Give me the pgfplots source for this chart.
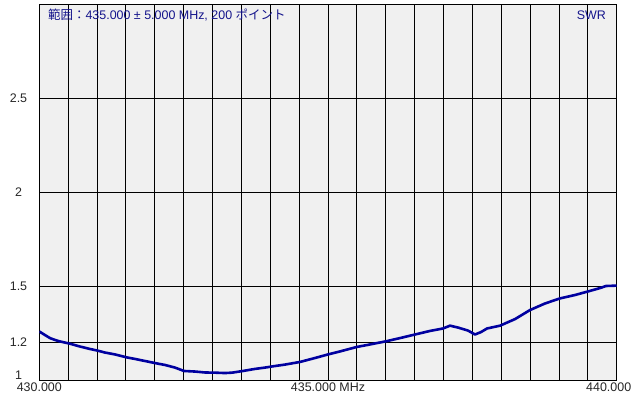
\documentclass[border=0pt]{standalone}
\usepackage{pgfplots}
\pgfplotsset{compat=1.18}
\usepackage{fontspec}
\setmainfont{Liberation Sans}
\newfontfamily\jp{Noto Sans CJK JP}
\definecolor{bg}{RGB}{240,240,240}
\definecolor{curve}{RGB}{0,0,160}
\definecolor{navy}{RGB}{20,20,140}
\pgfplotstableread{
x y
430.000 1.258
430.099 1.239
430.185 1.223
430.272 1.213
430.358 1.205
430.520 1.194
430.705 1.178
430.878 1.165
431.000 1.157
431.138 1.146
431.311 1.136
431.519 1.120
431.657 1.112
431.831 1.101
432.038 1.088
432.177 1.080
432.350 1.066
432.506 1.048
432.697 1.045
432.870 1.040
433.043 1.039
433.216 1.037
433.337 1.039
433.528 1.048
433.736 1.059
433.909 1.066
434.030 1.072
434.255 1.082
434.515 1.096
434.775 1.117
435.000 1.136
435.208 1.152
435.502 1.176
435.727 1.189
436.022 1.207
436.247 1.223
436.507 1.242
436.767 1.261
436.992 1.274
437.113 1.289
437.251 1.279
437.424 1.263
437.546 1.242
437.650 1.255
437.754 1.274
437.979 1.289
438.239 1.324
438.498 1.372
438.758 1.407
439.018 1.434
439.277 1.452
439.503 1.471
439.711 1.489
439.815 1.500
440.000 1.502
}\swr
\begin{document}
\begin{tikzpicture}
\begin{axis}[
  at={(39.3bp,20bp)}, anchor=south west,
  scale only axis, width=577.4bp, height=376bp,
  xmin=430, xmax=440, ymin=1, ymax=3,
  axis background/.style={fill=bg},
  axis line style={black, line width=0.9bp},
  xtick={430,430.5,431,431.5,432,432.5,433,433.5,434,434.5,435,435.5,436,436.5,437,437.5,438,438.5,439,439.5,440},
  xticklabels={430.000,,,,,,,,,,435.000 MHz,,,,,,,,,,\hspace*{-16bp}440.000},
  ytick={1.2,1.5,2,2.5},
  yticklabels={1.2,1.5,2,2.5},
  extra y ticks={1},
  extra y tick labels={1},
  extra y tick style={grid=none, yticklabel style={yshift=4.3bp}},
  grid=major,
  major grid style={black, line width=0.9bp},
  major tick length=0pt,
  tick label style={font=\fontsize{12.5}{14}\selectfont, text=black!85},
  xticklabel style={anchor=center, yshift=-7.5bp},
  yticklabel style={anchor=center, xshift=-20.8bp},
  clip=true,
]
\addplot[curve, line width=2.6bp, line join=round] table[x=x, y=y] {\swr};
\node[anchor=west, text=navy, font=\fontsize{12.5}{14}\selectfont, inner sep=0pt]
  at (axis description cs:0.015,0.971) {{\jp 範囲：}435.000 ± 5.000 MHz, 200 {\jp ポイント}};
\node[anchor=east, text=navy, font=\fontsize{12.5}{14}\selectfont, inner sep=0pt]
  at (axis description cs:0.9815,0.971) {SWR};
\end{axis}
\pgfresetboundingbox
\path[use as bounding box] (0,0) rectangle (640bp,400bp);
\end{tikzpicture}
\end{document}
